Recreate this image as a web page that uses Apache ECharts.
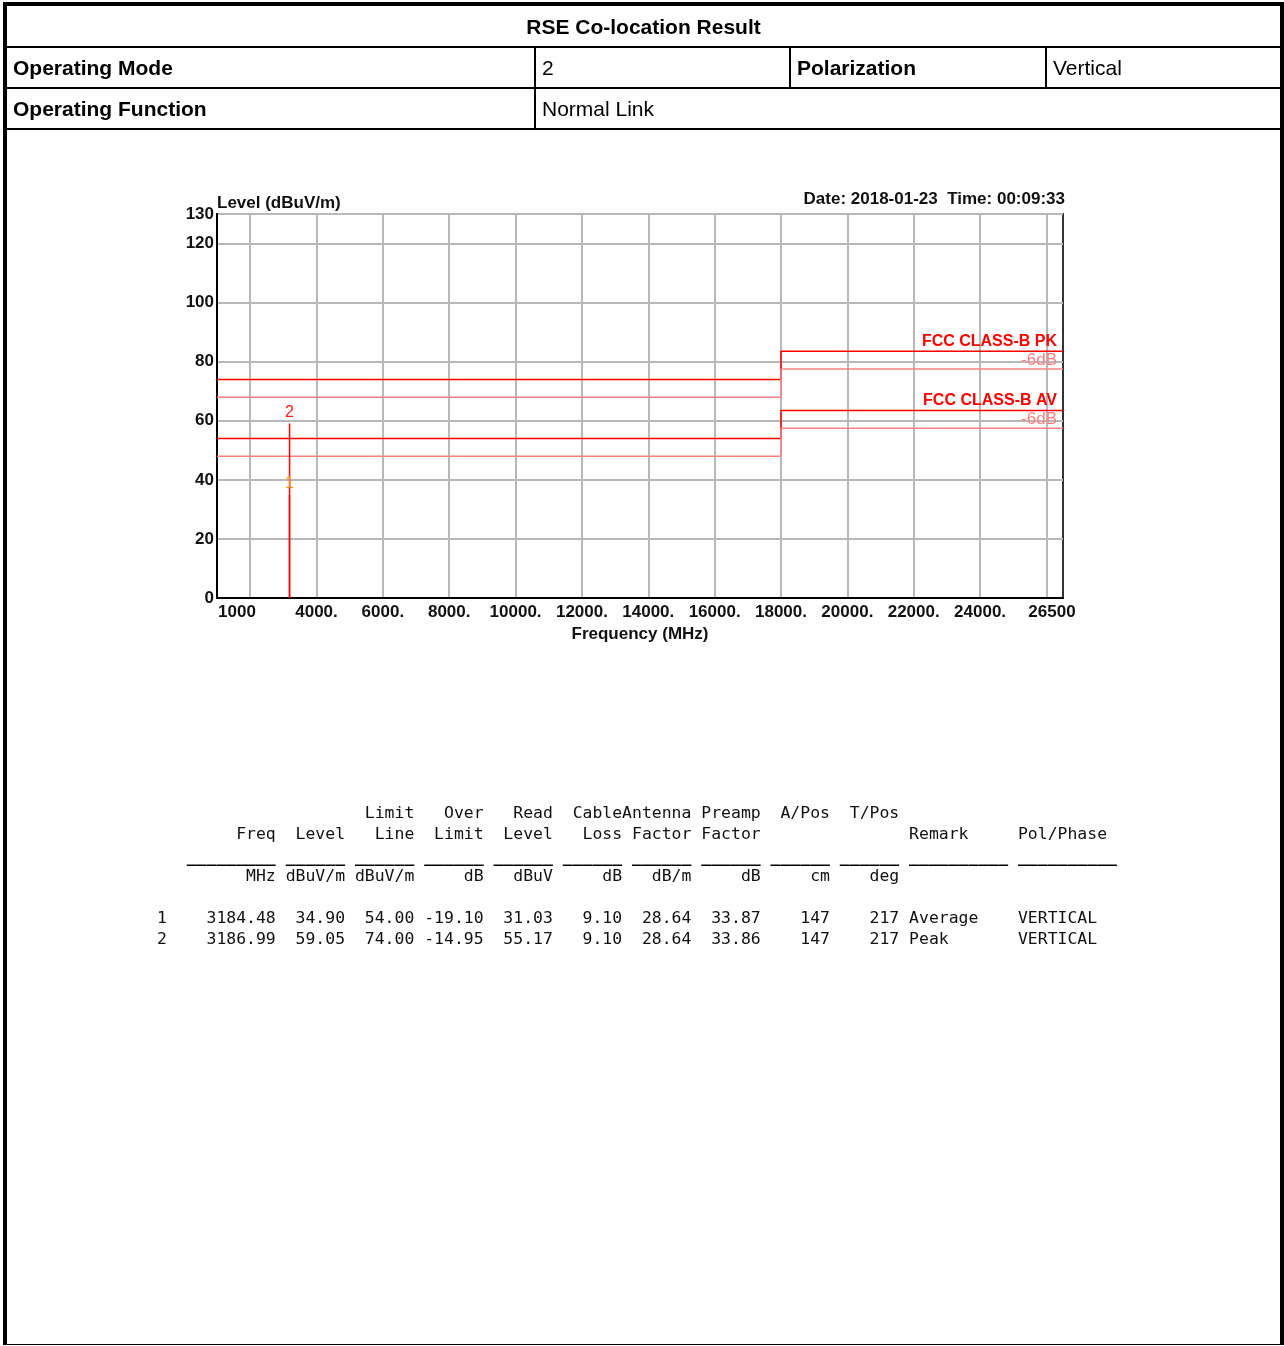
<!DOCTYPE html>
<html>
<head>
<meta charset="utf-8">
<title>RSE Co-location Result</title>
<script src="https://cdn.jsdelivr.net/npm/echarts@6/dist/echarts.min.js"></script>
<style>
  html, body { margin: 0; padding: 0; background: #fff; }
  body { width: 1284px; height: 1346px; position: relative; overflow: hidden; font-family: "Liberation Sans", Arial, sans-serif; color: #000; }
  .abs { position: absolute; }
  .frame { left: 3px; top: 2px; width: 1281px; height: 1343px; box-sizing: border-box; border: 4px solid #000; border-bottom-width: 1px; }
  .hl { background: #000; height: 2px; }
  .vl { background: #000; width: 2px; }
  .cell { font-size: 21px; white-space: nowrap; }
  .b { font-weight: bold; }
  #chart { left: 0; top: 0; width: 1284px; height: 700px; }
  #table { left: 157px; top: 802px; margin: 0; font-family: "DejaVu Sans Mono", monospace; font-size: 16.45px; line-height: 21px; color: #111; }
  #table .rule { position: relative; top: 2px; font-weight: bold; color: #000; }
</style>
</head>
<body>
<div id="chart" class="abs"></div>

<div class="abs frame"></div>
<div class="abs hl" style="left:7px; top:46px; width:1273px;"></div>
<div class="abs hl" style="left:7px; top:87px; width:1273px;"></div>
<div class="abs hl" style="left:7px; top:128px; width:1273px;"></div>
<div class="abs vl" style="left:534px; top:47px; height:82px;"></div>
<div class="abs vl" style="left:789px; top:47px; height:41px;"></div>
<div class="abs vl" style="left:1045px; top:47px; height:41px;"></div>

<div class="abs cell b" style="left:7px; width:1273px; top:7px; height:39px; line-height:40px; text-align:center;">RSE Co-location Result</div>
<div class="abs cell b" style="left:13px; top:48px; line-height:40px;">Operating Mode</div>
<div class="abs cell" style="left:542px; top:48px; line-height:40px;">2</div>
<div class="abs cell b" style="left:797px; top:48px; line-height:40px;">Polarization</div>
<div class="abs cell" style="left:1053px; top:48px; line-height:40px;">Vertical</div>
<div class="abs cell b" style="left:13px; top:89px; line-height:40px;">Operating Function</div>
<div class="abs cell" style="left:542px; top:89px; line-height:40px;">Normal Link</div>

<pre id="table" class="abs"></pre>

<script>
// ---- axis ranges and tick labels ----
const levelMin = 0;
const levelMax = 130;
const levelStep = 20;
const freqMin = 1000;
const freqMax = 26500;
const freqGridValues = [2000, 4000, 6000, 8000, 10000, 12000, 14000, 16000, 18000, 20000, 22000, 24000, 26000];
const freqLabelValues = [1000, 4000, 6000, 8000, 10000, 12000, 14000, 16000, 18000, 20000, 22000, 24000, 26500];

// ---- FCC Class B limit lines (dBuV/m), stepping up at 18 GHz ----
const limitFreq = [1000, 18000, 18000, 26500];
const pkLimit = [74, 74, 83.5, 83.5];
const pkLimit6dB = [68, 68, 77.5, 77.5];
const avLimit = [54, 54, 63.5, 63.5];
const avLimit6dB = [48, 48, 57.5, 57.5];

// ---- measured markers ----
const markerNo = [1, 2];
const markerFreq = [3184.48, 3186.99];
const markerLevel = [34.90, 59.05];
const markerLimit = [54.00, 74.00];
const markerOver = [-19.10, -14.95];
const markerRead = [31.03, 55.17];
const markerCable = [9.10, 9.10];
const markerAntenna = [28.64, 28.64];
const markerPreamp = [33.87, 33.86];
const markerAPos = [147, 147];
const markerTPos = [217, 217];
const markerRemark = ['Average', 'Peak'];
const markerPol = ['VERTICAL', 'VERTICAL'];
const markerLabelColor = ['#ff8c1a', '#ff2020'];

// ---- result table column headings ----
const headTop = ['', '', 'Limit', 'Over', 'Read', 'Cable', 'Antenna', 'Preamp', 'A/Pos', 'T/Pos'];
const headBottom = ['Freq', 'Level', 'Line', 'Limit', 'Level', 'Loss', 'Factor', 'Factor', '', ''];
const headUnits = ['MHz', 'dBuV/m', 'dBuV/m', 'dB', 'dBuV', 'dB', 'dB/m', 'dB', 'cm', 'deg'];

const red = '#ff0000';
const lightRed = '#ff8080';
const labelFont = '"Liberation Sans", Arial, sans-serif';
const textSize = 17;

function limitSeries(name, values, color, labelText, labelStyle) {
  const data = limitFreq.map((f, i) => [f, values[i]]);
  const last = data.length - 1;
  data[last] = {
    value: data[last],
    label: Object.assign({
      show: true,
      position: 'top',
      align: 'right',
      formatter: labelText,
      fontFamily: labelFont,
      fontSize: 16
    }, labelStyle)
  };
  return {
    name: name,
    type: 'line',
    data: data,
    symbol: 'circle',
    symbolSize: 0.01,
    showSymbol: true,
    silent: true,
    lineStyle: { color: color, width: 1.5 },
    itemStyle: { color: color },
    z: 3
  };
}

function markerSeries(i) {
  return {
    name: 'marker ' + markerNo[i],
    type: 'line',
    data: [
      [markerFreq[i], levelMin],
      {
        value: [markerFreq[i], markerLevel[i]],
        label: {
          show: true,
          position: 'top',
          distance: 3,
          formatter: String(markerNo[i]),
          color: markerLabelColor[i],
          fontFamily: labelFont,
          fontSize: 16
        }
      }
    ],
    symbol: 'circle',
    symbolSize: 0.01,
    showSymbol: true,
    silent: true,
    lineStyle: { color: red, width: 1.5 },
    itemStyle: { color: red },
    z: 4
  };
}

const chart = echarts.init(document.getElementById('chart'), null, { renderer: 'canvas' });

const series = [
  limitSeries('FCC CLASS-B PK', pkLimit, red, 'FCC CLASS-B PK',
    { color: red, fontWeight: 'bold', offset: [-6, 3] }),
  limitSeries('FCC CLASS-B PK -6dB', pkLimit6dB, lightRed, '-6dB',
    { color: lightRed, fontSize: 17, offset: [-6, 5] }),
  limitSeries('FCC CLASS-B AV', avLimit, red, 'FCC CLASS-B AV',
    { color: red, fontWeight: 'bold', offset: [-6, 3] }),
  limitSeries('FCC CLASS-B AV -6dB', avLimit6dB, lightRed, '-6dB',
    { color: lightRed, fontSize: 17, offset: [-6, 5] })
];
markerNo.forEach((_, i) => series.push(markerSeries(i)));

const axisText = { fontFamily: labelFont, fontSize: textSize, fontWeight: 'bold', color: '#111' };

chart.setOption({
  animation: false,
  backgroundColor: 'transparent',
  title: [
    {
      text: 'Level (dBuV/m)',
      left: 217, top: 195, padding: 0,
      textStyle: axisText
    },
    {
      text: 'Date: 2018-01-23  Time: 00:09:33',
      right: 219, top: 191, padding: 0,
      textStyle: axisText
    }
  ],
  grid: {
    left: 217, top: 214, width: 846, height: 384,
    show: true, borderColor: '#333', borderWidth: 2, backgroundColor: 'transparent'
  },
  xAxis: {
    type: 'value',
    min: freqMin,
    max: freqMax,
    name: 'Frequency (MHz)',
    nameLocation: 'middle',
    nameGap: 25,
    nameTextStyle: axisText,
    axisLine: { show: true, lineStyle: { color: '#000', width: 2 } },
    axisTick: { show: false, customValues: freqGridValues },
    splitLine: { show: true, lineStyle: { color: '#b8b8b8', width: 2 } },
    axisLabel: Object.assign({
      customValues: freqLabelValues,
      margin: 6,
      formatter: function (v) {
        if (v === freqMin) return '{first|' + v + '}';
        if (v === freqMax) return '{last|' + v + '}';
        return v + '.';
      },
      rich: {
        first: Object.assign({ padding: [0, 0, 0, 40] }, axisText),
        last: Object.assign({ padding: [0, 22, 0, 0] }, axisText)
      }
    }, axisText)
  },
  yAxis: {
    type: 'value',
    min: levelMin,
    max: levelMax,
    interval: levelStep,
    axisLine: { show: true, lineStyle: { color: '#000', width: 2 } },
    axisTick: { show: false },
    splitLine: { show: true, lineStyle: { color: '#b8b8b8', width: 2 } },
    axisLabel: Object.assign({ margin: 3 }, axisText)
  },
  series: series
});

// ---- result table, laid out on a fixed character grid ----
const colEnds = [12, 19, 26, 33, 40, 47, 54, 61, 68, 75];
const colStarts = [3, 13, 20, 27, 34, 41, 48, 55, 62, 69];
const remarkCol = 76;
const polCol = 87;
const remarkWidth = 10;

function place(line, text, start) {
  return line.padEnd(start, ' ') + text;
}
function rightCells(line, texts) {
  texts.forEach((t, k) => {
    if (t) line = place(line, t, colEnds[k] - t.length);
  });
  return line;
}
function esc(s) {
  return s.replace(/&/g, '&amp;').replace(/</g, '&lt;');
}

const lines = [];
lines.push(esc(rightCells('', headTop)));
let l2 = rightCells('', headBottom);
l2 = place(l2, 'Remark', remarkCol);
l2 = place(l2, 'Pol/Phase', polCol);
lines.push(esc(l2));
let l3 = '';
colStarts.forEach((s, k) => { l3 = place(l3, '_'.repeat(colEnds[k] - s), s); });
l3 = place(l3, '_'.repeat(remarkWidth), remarkCol);
l3 = place(l3, '_'.repeat(remarkWidth), polCol);
lines.push('<span class="rule">' + esc(l3) + '</span>');
lines.push(esc(rightCells('', headUnits)));
lines.push('');
markerNo.forEach((n, i) => {
  let r = String(n);
  r = rightCells(r, [
    markerFreq[i].toFixed(2), markerLevel[i].toFixed(2), markerLimit[i].toFixed(2),
    markerOver[i].toFixed(2), markerRead[i].toFixed(2), markerCable[i].toFixed(2),
    markerAntenna[i].toFixed(2), markerPreamp[i].toFixed(2),
    String(markerAPos[i]), String(markerTPos[i])
  ]);
  r = place(r, ' ' + markerRemark[i], remarkCol - 1);
  r = place(r, markerPol[i], polCol);
  lines.push(esc(r));
});
document.getElementById('table').innerHTML = lines.join('\n');
</script>
</body>
</html>
